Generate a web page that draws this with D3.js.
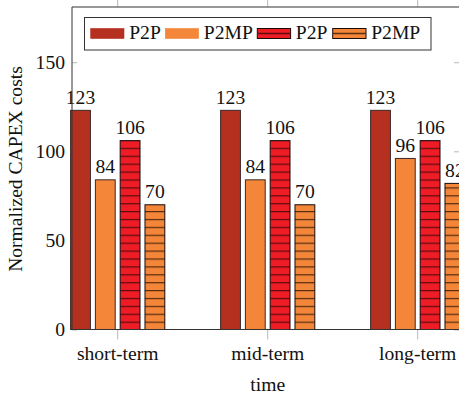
<!DOCTYPE html>
<html>
<head>
<meta charset="utf-8">
<script src="https://cdnjs.cloudflare.com/ajax/libs/d3/7.8.5/d3.min.js"></script>
<style>
  html, body { margin: 0; padding: 0; background: #fff; overflow: hidden; }
  svg { display: block; }
</style>
</head>
<body>
<svg id="chart" width="459" height="396"></svg>
<script>
// CAPEX comparison per deployment horizon
const categories = ["short-term", "mid-term", "long-term"];
const seriesNames = ["P2P", "P2MP", "P2P", "P2MP"];
const p2pValues       = [123, 123, 123];
const p2mpValues      = [84, 84, 96];
const p2pHatchValues  = [106, 106, 106];
const p2mpHatchValues = [70, 70, 82];
const yTicks = [0, 50, 100, 150];
const yLabel = "Normalized CAPEX costs";
const xLabel = "time";

const seriesValues = [p2pValues, p2mpValues, p2pHatchValues, p2mpHatchValues];
const seriesStyle = [
  { fill: "#b5301f", stroke: "#3b2a28", hatch: null },
  { fill: "#f4863a", stroke: "#3b2a28", hatch: null },
  { fill: "#ee1c25", stroke: "#1a0a0a", hatch: "#5e0c10" },
  { fill: "#f4863a", stroke: "#1a0a0a", hatch: "#5a2e10" }
];

const FONT = '"Liberation Serif", "Times New Roman", serif';
const FS = 19.6;

const svg = d3.select("#chart").style("font-family", FONT);
const frame = { left: 72, right: 461, top: 7, bottom: 329.5 };

const y = d3.scaleLinear().domain([0, 181]).range([frame.bottom, frame.top]);
const x = d3.scaleBand().domain(categories).range([42.7, 492.7]).padding(0);
const xInner = d3.scaleBand().domain(d3.range(seriesNames.length))
  .range([-47.6, 47.6]).paddingInner(0.16).paddingOuter(0);

// hatch patterns
const defs = svg.append("defs");
seriesStyle.forEach((s, i) => {
  if (!s.hatch) return;
  const p = defs.append("pattern")
    .attr("id", "hatch" + i)
    .attr("patternUnits", "userSpaceOnUse")
    .attr("width", 8).attr("height", 7.9)
    .attr("y", frame.bottom);
  p.append("rect").attr("width", 8).attr("height", 7.9).attr("fill", s.fill);
  p.append("line").attr("x1", 0).attr("x2", 8).attr("y1", 0.6).attr("y2", 0.6)
    .attr("stroke", s.hatch).attr("stroke-width", 1.3);
});
const fillOf = i => seriesStyle[i].hatch ? `url(#hatch${i})` : seriesStyle[i].fill;

function styleText(sel) {
  sel.attr("font-size", FS).attr("fill", "#111").style("font-family", FONT);
}

// ticks (gray): y ticks inside, x ticks outside top and bottom
const tickColor = "#b8b8b8";
const yAxisL = d3.axisLeft(y).tickValues(yTicks).tickSize(-5).tickFormat(d => d).tickPadding(7);
const gy = svg.append("g").attr("transform", `translate(${frame.left},0)`).call(yAxisL);
gy.attr("font-family", null);
gy.select(".domain").remove();
gy.selectAll(".tick line").attr("stroke", tickColor);
gy.selectAll(".tick text").call(styleText);

const yAxisR = d3.axisRight(y).tickValues(yTicks).tickSize(-5).tickFormat("");
const gyr = svg.append("g").attr("transform", `translate(${frame.right - 2},0)`).call(yAxisR);
gyr.select(".domain").remove();
gyr.selectAll(".tick line").attr("stroke", tickColor);

const xAxisB = d3.axisBottom(x).tickSize(10).tickPadding(7);
const gx = svg.append("g").attr("transform", `translate(0,${frame.bottom})`).call(xAxisB);
gx.attr("font-family", null);
gx.select(".domain").remove();
gx.selectAll(".tick line").attr("stroke", tickColor);
gx.selectAll(".tick text").call(styleText);

const xAxisT = d3.axisTop(x).tickSize(10).tickFormat("");
const gxt = svg.append("g").attr("transform", `translate(0,${frame.top})`).call(xAxisT);
gxt.select(".domain").remove();
gxt.selectAll(".tick line").attr("stroke", tickColor);

// bars
const groups = svg.append("g").selectAll("g")
  .data(categories).join("g")
  .attr("transform", c => `translate(${x(c) + x.bandwidth() / 2},0)`);

groups.each(function(c, ci) {
  const g = d3.select(this);
  seriesValues.forEach((vals, si) => {
    const v = vals[ci];
    g.append("rect")
      .attr("x", xInner(si) + 0.5)
      .attr("y", y(v))
      .attr("width", xInner.bandwidth() - 1)
      .attr("height", y(0) - y(v))
      .attr("fill", fillOf(si))
      .attr("stroke", seriesStyle[si].stroke)
      .attr("stroke-width", 1);
    g.append("text")
      .attr("x", xInner(si) + xInner.bandwidth() / 2)
      .attr("y", y(v) - 6.5)
      .attr("text-anchor", "middle")
      .call(styleText)
      .text(v);
  });
});

// frame (left, top, bottom)
svg.append("path")
  .attr("d", `M${frame.right},${frame.top}H${frame.left}V${frame.bottom}H${frame.right}`)
  .attr("fill", "none").attr("stroke", "#333").attr("stroke-width", 1);

// legend
const lg = svg.append("g");
lg.append("rect").attr("x", 84.5).attr("y", 17.5).attr("width", 346.5).attr("height", 32.5)
  .attr("fill", "#fff").attr("stroke", "#333").attr("stroke-width", 1);
const legendX = [90.7, 165.3, 257.3, 332.7];
seriesNames.forEach((name, i) => {
  const s = seriesStyle[i];
  const gx0 = legendX[i];
  lg.append("rect").attr("x", gx0).attr("y", 28.5).attr("width", 33.3).attr("height", 10)
    .attr("fill", s.fill)
    .attr("stroke", s.hatch ? s.stroke : s.fill).attr("stroke-width", s.hatch ? 1 : 0.6);
  if (s.hatch) {
    lg.append("line").attr("x1", gx0).attr("x2", gx0 + 33.3).attr("y1", 33.5).attr("y2", 33.5)
      .attr("stroke", s.hatch).attr("stroke-width", 1.3);
  }
  lg.append("text").attr("x", gx0 + 38.5).attr("y", 39).call(styleText).text(name);
});

// axis titles
svg.append("text")
  .attr("transform", `translate(21.5,169) rotate(-90)`)
  .attr("text-anchor", "middle").call(styleText).text(yLabel);
svg.append("text")
  .attr("x", 267.7).attr("y", 391).attr("text-anchor", "middle").call(styleText).text(xLabel);
</script>
</body>
</html>
